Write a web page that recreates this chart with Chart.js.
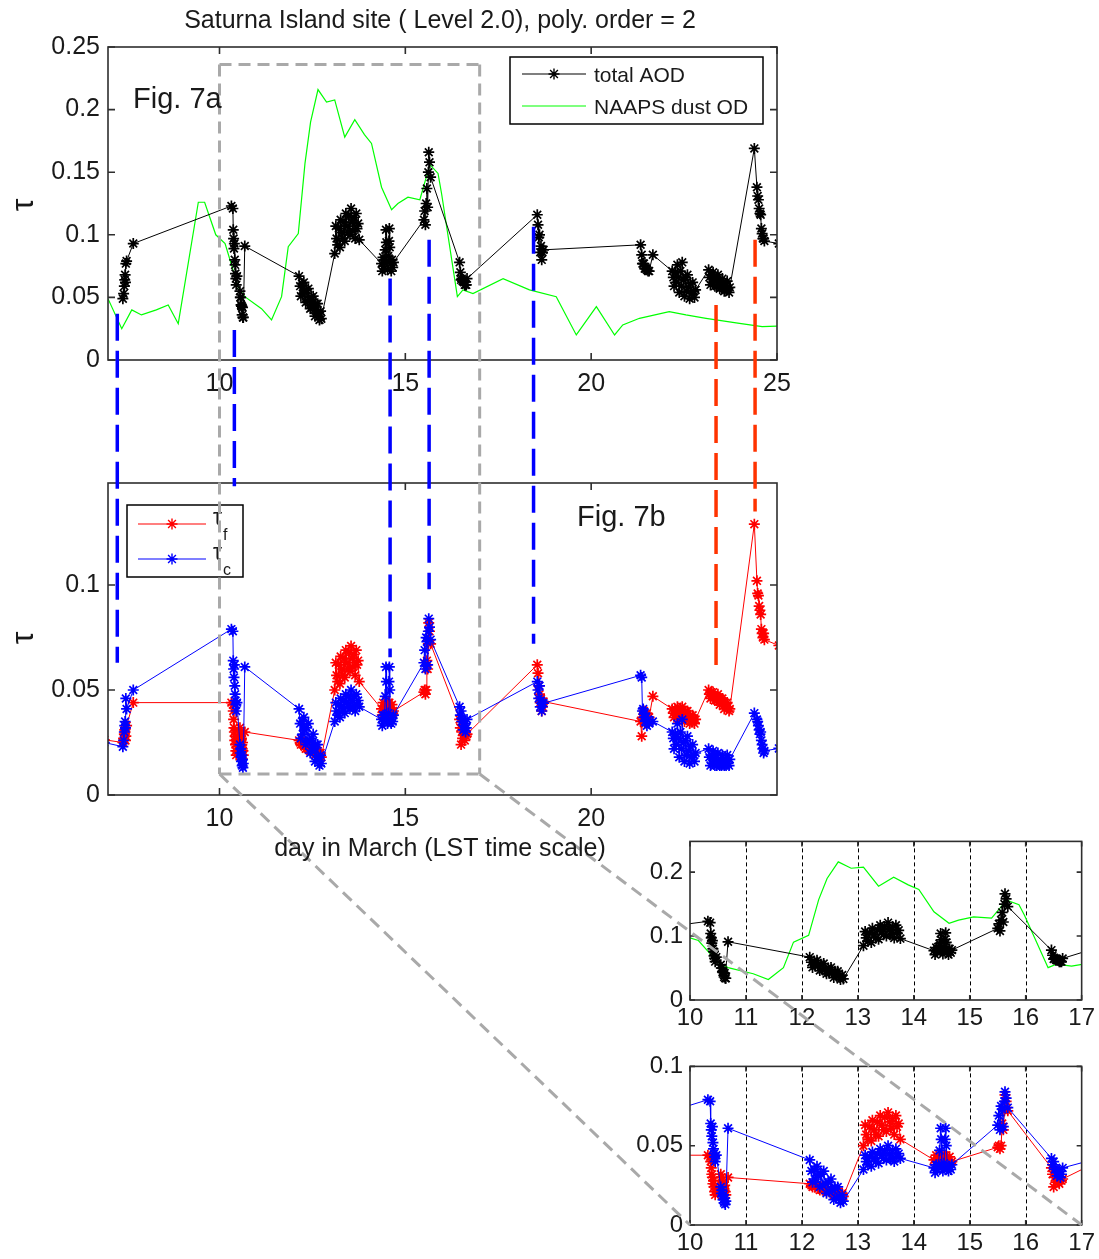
<!DOCTYPE html>
<html>
<head>
<meta charset="utf-8">
<script src="https://cdn.jsdelivr.net/npm/chart.js@4.4.1/dist/chart.umd.min.js"></script>
<style>
  body { margin: 0; background: #fff; }
  #fig { position: relative; width: 1099px; height: 1259px; font-family: "Liberation Sans", Arial, sans-serif; color: #1a1a1a; }
  #fig canvas { position: absolute; }
  .txt { position: absolute; white-space: nowrap; line-height: 1; }
  .ylab { position: absolute; width: 40px; height: 34px; text-align: center; font-size: 32px; line-height: 34px; transform: rotate(-90deg); }
</style>
</head>
<body>
<div id="fig">
  <canvas id="cTop" style="left:0;top:0" width="800" height="400"></canvas>
  <canvas id="cBot" style="left:0;top:440px" width="800" height="400"></canvas>
  <canvas id="cInTop" style="left:620px;top:820px" width="479" height="225"></canvas>
  <canvas id="cInBot" style="left:620px;top:1045px" width="479" height="214"></canvas>
  <canvas id="over" style="left:0;top:0;pointer-events:none" width="1099" height="1259"></canvas>
  <div class="txt" style="left:0;width:880px;text-align:center;top:7px;font-size:25px">Saturna Island site ( Level 2.0), poly. order = 2</div>
  <div class="txt" style="left:133px;top:84px;font-size:29px">Fig. 7a</div>
  <div class="txt" style="left:577px;top:502px;font-size:29px">Fig. 7b</div>
  <div class="txt" style="left:0;width:880px;text-align:center;top:835px;font-size:25px">day in March (LST time scale)</div>
  <div class="ylab" style="left:2px;top:188px">τ</div>
  <div class="ylab" style="left:2px;top:621px">τ</div>
</div>
<script>
'use strict';
// ---- data ----
// observation days (LST, day in March); first entry sits just left of the axis
const obsDay = [
  6.9,
  7.40, 7.42, 7.44, 7.45, 7.46, 7.47, 7.48, 7.50, 7.68,
  10.32, 10.36, 10.37, 10.38, 10.39, 10.40, 10.41, 10.42, 10.43, 10.44, 10.45, 10.47,
  10.55, 10.56, 10.57, 10.58, 10.59, 10.60, 10.61, 10.62, 10.63, 10.64, 10.68,
  12.14, 12.17, 12.19, 12.22, 12.24, 12.27, 12.29, 12.32, 12.34, 12.37, 12.39, 12.42, 12.44, 12.47, 12.49, 12.52, 12.54, 12.57, 12.59, 12.62, 12.64, 12.67, 12.69, 12.72, 12.74,
  13.10, 13.13, 13.15, 13.18, 13.21, 13.24, 13.26, 13.29, 13.32, 13.35, 13.37, 13.40, 13.43, 13.46, 13.48, 13.51, 13.54, 13.57, 13.59, 13.62, 13.65, 13.68, 13.70, 13.73, 13.76,
  14.36, 14.38, 14.40, 14.42, 14.44, 14.46, 14.48, 14.49, 14.50, 14.52, 14.54, 14.56, 14.57, 14.58, 14.60, 14.62, 14.64, 14.66, 14.68,
  15.50, 15.52, 15.54, 15.56, 15.58, 15.60, 15.62, 15.63, 15.65, 15.68,
  16.46, 16.48, 16.50, 16.52, 16.54, 16.56, 16.58, 16.60, 16.62, 16.64, 16.66,
  18.55, 18.57, 18.59, 18.61, 18.63, 18.65, 18.67, 18.69, 18.72,
  21.33, 21.36, 21.38, 21.40, 21.42, 21.44, 21.46, 21.48, 21.50, 21.53, 21.56, 21.66,
  22.18, 22.21, 22.23, 22.26, 22.29, 22.32, 22.34, 22.37, 22.40, 22.43, 22.45, 22.48, 22.51, 22.54, 22.56, 22.59, 22.62, 22.65, 22.67, 22.70, 22.73, 22.76, 22.78, 22.81,
  23.16, 23.18, 23.21, 23.23, 23.26, 23.28, 23.31, 23.33, 23.36, 23.38, 23.41, 23.43, 23.46, 23.48, 23.51, 23.53, 23.56, 23.58, 23.61, 23.63, 23.66, 23.68, 23.71, 23.73,
  24.39, 24.46, 24.48, 24.50, 24.52, 24.54, 24.56, 24.58, 24.60, 24.62, 24.64, 24.66,
  25.05
];
// total AOD (Fig. 7a, black)
const totalAod = [
  null,
  0.049, 0.053, 0.059, 0.064, 0.068, 0.062, 0.077, 0.079, 0.093,
  0.123, 0.121, 0.104, 0.097, 0.089, 0.093, 0.080, 0.076, 0.069, 0.065, 0.060, 0.067,
  0.055, 0.050, 0.050, 0.044, 0.043, 0.043, 0.036, 0.042, 0.034, 0.034, 0.091,
  0.067, 0.059, 0.051, 0.061, 0.053, 0.062, 0.054, 0.046, 0.056, 0.047, 0.057, 0.048, 0.041, 0.050, 0.042, 0.051, 0.043, 0.035, 0.045, 0.037, 0.045, 0.038, 0.032, 0.039, 0.033,
  0.085, 0.107, 0.097, 0.092, 0.105, 0.090, 0.112, 0.102, 0.097, 0.110, 0.095, 0.117, 0.107, 0.102, 0.115, 0.100, 0.121, 0.110, 0.103, 0.114, 0.097, 0.117, 0.105, 0.109, 0.096,
  0.077, 0.071, 0.082, 0.075, 0.080, 0.088, 0.104, 0.094, 0.079, 0.072, 0.083, 0.095, 0.105, 0.090, 0.077, 0.071, 0.080, 0.074, 0.078,
  0.112, 0.119, 0.108, 0.125, 0.137, 0.122, 0.150, 0.166, 0.158, 0.146,
  0.078, 0.070, 0.064, 0.065, 0.063, 0.064, 0.062, 0.060, 0.060, 0.060, 0.065,
  0.116, 0.108, 0.098, 0.100, 0.086, 0.091, 0.080, 0.086, 0.088,
  0.092, 0.084, 0.077, 0.077, 0.077, 0.073, 0.073, 0.073, 0.072, 0.071, 0.071, 0.084,
  0.071, 0.066, 0.059, 0.070, 0.062, 0.076, 0.066, 0.054, 0.071, 0.059, 0.078, 0.064, 0.051, 0.066, 0.055, 0.068, 0.058, 0.049, 0.061, 0.053, 0.062, 0.055, 0.050, 0.056,
  0.072, 0.066, 0.060, 0.068, 0.062, 0.070, 0.064, 0.059, 0.066, 0.059, 0.068, 0.062, 0.057, 0.063, 0.058, 0.065, 0.059, 0.055, 0.061, 0.056, 0.063, 0.057, 0.054, 0.058,
  0.169, 0.138, 0.131, 0.128, 0.121, 0.117, 0.116, 0.105, 0.101, 0.097, 0.097, 0.095,
  0.093
];
// fine mode tau_f (Fig. 7b, red)
const tauF = [
  0.0263,
  0.025, 0.027, 0.029, 0.031, 0.030, 0.026, 0.028, 0.033, 0.044,
  0.044, 0.043, 0.040, 0.036, 0.032, 0.030, 0.026, 0.028, 0.024, 0.021, 0.019, 0.023,
  0.032, 0.030, 0.028, 0.026, 0.027, 0.024, 0.022, 0.025, 0.021, 0.019, 0.030,
  0.026, 0.025, 0.024, 0.026, 0.024, 0.025, 0.023, 0.022, 0.024, 0.022, 0.023, 0.022, 0.021, 0.023, 0.021, 0.022, 0.021, 0.019, 0.021, 0.020, 0.021, 0.020, 0.018, 0.020, 0.018,
  0.050, 0.063, 0.057, 0.054, 0.062, 0.053, 0.066, 0.060, 0.057, 0.065, 0.056, 0.069, 0.063, 0.060, 0.068, 0.059, 0.071, 0.065, 0.061, 0.067, 0.057, 0.069, 0.062, 0.064, 0.054,
  0.041, 0.038, 0.044, 0.040, 0.042, 0.041, 0.043, 0.040, 0.042, 0.038, 0.044, 0.041, 0.044, 0.040, 0.041, 0.037, 0.043, 0.039, 0.040,
  0.049, 0.050, 0.048, 0.050, 0.064, 0.060, 0.072, 0.082, 0.078, 0.072,
  0.036, 0.032, 0.024, 0.030, 0.027, 0.033, 0.029, 0.026, 0.030, 0.028, 0.029,
  0.062, 0.058, 0.052, 0.048, 0.044, 0.046, 0.040, 0.042, 0.0445,
  0.035, 0.028, 0.037, 0.036, 0.040, 0.034, 0.038, 0.036, 0.039, 0.035, 0.037, 0.047,
  0.041, 0.039, 0.037, 0.041, 0.038, 0.042, 0.039, 0.036, 0.041, 0.037, 0.042, 0.039, 0.035, 0.040, 0.036, 0.040, 0.037, 0.034, 0.038, 0.035, 0.038, 0.036, 0.034, 0.036,
  0.050, 0.048, 0.046, 0.049, 0.047, 0.049, 0.047, 0.045, 0.047, 0.045, 0.048, 0.046, 0.043, 0.046, 0.044, 0.046, 0.044, 0.041, 0.044, 0.042, 0.044, 0.042, 0.040, 0.041,
  0.129, 0.102, 0.096, 0.095, 0.090, 0.088, 0.086, 0.079, 0.077, 0.075, 0.077, 0.074,
  0.0712
];
// coarse mode tau_c (Fig. 7b, blue)
const tauC = [
  0.0250,
  0.023, 0.026, 0.030, 0.033, 0.035, 0.032, 0.046, 0.041, 0.050,
  0.079, 0.078, 0.064, 0.060, 0.056, 0.062, 0.052, 0.048, 0.045, 0.043, 0.040, 0.044,
  0.024, 0.020, 0.022, 0.018, 0.016, 0.019, 0.014, 0.017, 0.013, 0.015, 0.061,
  0.041, 0.034, 0.027, 0.035, 0.029, 0.037, 0.031, 0.024, 0.032, 0.025, 0.034, 0.026, 0.020, 0.027, 0.021, 0.029, 0.022, 0.016, 0.024, 0.017, 0.024, 0.018, 0.014, 0.019, 0.015,
  0.035, 0.044, 0.040, 0.038, 0.043, 0.037, 0.046, 0.042, 0.040, 0.045, 0.039, 0.048, 0.044, 0.042, 0.047, 0.041, 0.050, 0.045, 0.042, 0.047, 0.040, 0.048, 0.043, 0.045, 0.042,
  0.036, 0.033, 0.038, 0.035, 0.038, 0.047, 0.061, 0.054, 0.037, 0.034, 0.039, 0.054, 0.061, 0.050, 0.036, 0.034, 0.037, 0.035, 0.038,
  0.063, 0.069, 0.060, 0.075, 0.073, 0.062, 0.078, 0.084, 0.080, 0.074,
  0.042, 0.038, 0.040, 0.035, 0.036, 0.031, 0.033, 0.034, 0.030, 0.032, 0.036,
  0.054, 0.050, 0.046, 0.052, 0.042, 0.045, 0.040, 0.044, 0.0437,
  0.057, 0.056, 0.040, 0.041, 0.037, 0.039, 0.035, 0.037, 0.033, 0.036, 0.034, 0.035,
  0.030, 0.027, 0.022, 0.029, 0.024, 0.034, 0.027, 0.018, 0.030, 0.022, 0.036, 0.025, 0.016, 0.026, 0.019, 0.028, 0.021, 0.015, 0.023, 0.018, 0.024, 0.019, 0.016, 0.020,
  0.022, 0.018, 0.014, 0.019, 0.015, 0.021, 0.017, 0.014, 0.019, 0.014, 0.020, 0.016, 0.014, 0.017, 0.014, 0.019, 0.015, 0.014, 0.017, 0.014, 0.019, 0.015, 0.014, 0.017,
  0.039, 0.036, 0.035, 0.033, 0.031, 0.029, 0.030, 0.026, 0.024, 0.022, 0.020, 0.021,
  0.0222
];
// NAAPS dust optical depth (green)
const dustDay = [7.0, 7.37, 7.64, 7.9, 8.3, 8.62, 8.89, 9.43, 9.6, 9.9, 10.15, 10.5, 10.68, 11.13, 11.4, 11.67, 11.85, 12.12,
  12.3, 12.45, 12.65, 12.88, 13.1, 13.37, 13.64, 13.9, 14.09, 14.36, 14.63, 14.8, 15.07, 15.39, 15.66, 15.88, 15.98, 16.4,
  16.55, 16.82, 17.63, 18.34, 19.06, 19.6, 20.14, 20.63, 20.85, 21.3, 22.1, 22.55, 23.09, 23.99, 24.6, 25.0];
const dustVal = [0.049, 0.025, 0.040, 0.036, 0.040, 0.044, 0.029, 0.126, 0.126, 0.100, 0.093, 0.0585, 0.0506, 0.041, 0.032, 0.0506, 0.0905, 0.101,
  0.157, 0.190, 0.216, 0.206, 0.2077, 0.178, 0.192, 0.180, 0.173, 0.138, 0.120, 0.125, 0.130, 0.128, 0.156, 0.149, 0.132, 0.0506,
  0.056, 0.053, 0.065, 0.056, 0.0506, 0.020, 0.0426, 0.020, 0.028, 0.0333, 0.0386, 0.036, 0.0333, 0.0293, 0.0266, 0.027];
// axis ticks
const mainDayTicks = [10, 15, 20, 25];
const lowDayTicks = [10, 15, 20];
const zoomDayTicks = [10, 11, 12, 13, 14, 15, 16, 17];
const topTauTicks = [0, 0.05, 0.1, 0.15, 0.2, 0.25];
const lowTauTicks = [0, 0.05, 0.1];
const zoomTopTicks = [0, 0.1, 0.2];
const zoomLowTicks = [0, 0.05, 0.1];
// dashed guide lines: day, upper end (Fig. 7a tau), lower end (Fig. 7b tau)
const blueGuides = [[7.25, 0.037, 0.063], [10.40, 0.024, 0.147], [14.59, 0.065, 0.0656], [15.64, 0.096, 0.098], [18.45, 0.1065, 0.072]];
const redGuides = [[23.36, 0.044, 0.060], [24.41, 0.096, 0.135]];
// ---- end of data ----

const FONT = '"Liberation Sans", Arial, sans-serif';
const TXT = '#1a1a1a';

function pts(xs, ys) {
  let out = [];
  for (let i = 0; i < xs.length; i++) out.push({ x: xs[i], y: ys[i] });
  return out;
}

function starSeries(xs, ys, color) {
  return { data: pts(xs, ys), showLine: true, borderColor: color, backgroundColor: color, borderWidth: 1,
    pointStyle: 'star', pointRadius: 5.5, pointBorderWidth: 1.7, pointBorderColor: color, spanGaps: false };
}
function plainSeries(xs, ys, color) {
  return { data: pts(xs, ys), showLine: true, borderColor: color, borderWidth: 1.2, pointRadius: 0 };
}

function drawStar(ctx, x, y, r) {
  ctx.beginPath();
  for (let k = 0; k < 4; k++) {
    let a = k * Math.PI / 4;
    ctx.moveTo(x - Math.cos(a) * r, y - Math.sin(a) * r);
    ctx.lineTo(x + Math.cos(a) * r, y + Math.sin(a) * r);
  }
  ctx.stroke();
}

// box, inward ticks, dotted day lines and in-plot legend
function framePlugin(o) {
  return {
    id: 'frame',
    beforeDatasetsDraw(chart) {
      if (!o.dotted) return;
      const { ctx, chartArea: a, scales } = chart;
      ctx.save();
      ctx.strokeStyle = '#000';
      ctx.lineWidth = 1;
      ctx.setLineDash([4, 3]);
      o.dotted.forEach(v => {
        let x = Math.round(scales.x.getPixelForValue(v)) + 0.5;
        ctx.beginPath(); ctx.moveTo(x, a.top); ctx.lineTo(x, a.bottom); ctx.stroke();
      });
      ctx.restore();
    },
    afterDatasetsDraw(chart) {
      const { ctx, chartArea: a, scales } = chart;
      ctx.save();
      ctx.strokeStyle = '#2e2e2e';
      ctx.lineWidth = 1.6;
      ctx.strokeRect(a.left, a.top, a.right - a.left, a.bottom - a.top);
      const t = o.tickLen;
      ctx.beginPath();
      o.xTicks.forEach(v => {
        let x = scales.x.getPixelForValue(v);
        ctx.moveTo(x, a.bottom); ctx.lineTo(x, a.bottom - t);
        ctx.moveTo(x, a.top); ctx.lineTo(x, a.top + t);
      });
      o.yTicks.forEach(v => {
        let y = scales.y.getPixelForValue(v);
        ctx.moveTo(a.left, y); ctx.lineTo(a.left + t, y);
        ctx.moveTo(a.right, y); ctx.lineTo(a.right - t, y);
      });
      ctx.stroke();
      if (o.legend) {
        const L = o.legend;
        ctx.fillStyle = '#fff';
        ctx.fillRect(L.x, L.y, L.w, L.h);
        ctx.strokeStyle = '#000';
        ctx.lineWidth = 1.5;
        ctx.strokeRect(L.x, L.y, L.w, L.h);
        L.rows.forEach(r => {
          ctx.strokeStyle = r.color;
          ctx.lineWidth = 1.2;
          ctx.beginPath(); ctx.moveTo(L.x0, r.y); ctx.lineTo(L.x1, r.y); ctx.stroke();
          if (r.star) { ctx.lineWidth = 1.4; drawStar(ctx, (L.x0 + L.x1) / 2, r.y, 5.5); }
          ctx.fillStyle = TXT;
          ctx.font = L.size + 'px ' + FONT;
          ctx.textBaseline = 'alphabetic';
          ctx.fillText(r.label, L.tx, r.y + L.dy);
          if (r.sub) {
            let w = ctx.measureText(r.label).width;
            ctx.font = L.subSize + 'px ' + FONT;
            ctx.fillText(r.sub, L.tx + w + 1, r.y + L.subDy);
          }
        });
      }
      ctx.restore();
    }
  };
}

function makeChart(id, datasets, o) {
  return new Chart(document.getElementById(id), {
    type: 'scatter',
    data: { datasets: datasets },
    options: {
      responsive: false,
      animation: false,
      events: [],
      layout: { padding: { top: o.padTop, right: o.padRight, left: 0, bottom: 0 } },
      plugins: { legend: { display: false }, tooltip: { enabled: false } },
      scales: {
        x: {
          type: 'linear', min: o.xMin, max: o.xMax,
          grid: { display: false, drawTicks: false }, border: { display: false },
          afterBuildTicks: ax => { ax.ticks = o.xTicks.map(v => ({ value: v })); },
          afterFit: ax => { ax.height = o.xHeight; },
          ticks: { font: { size: o.font, family: FONT }, color: TXT, padding: o.xPad, maxRotation: 0, autoSkip: false, callback: v => String(v) }
        },
        y: {
          type: 'linear', min: 0, max: o.yMax,
          grid: { display: false, drawTicks: false }, border: { display: false },
          afterBuildTicks: ax => { ax.ticks = o.yTicks.map(v => ({ value: v })); },
          afterFit: ax => { ax.width = o.yWidth; },
          ticks: { font: { size: o.font, family: FONT }, color: TXT, padding: o.yPad, autoSkip: false, callback: v => String(v) }
        }
      }
    },
    plugins: [framePlugin(o)]
  });
}

const topChart = makeChart('cTop', [
  starSeries(obsDay, totalAod, '#000000'),
  plainSeries(dustDay, dustVal, '#00ff00')
], { padTop: 47, padRight: 23, xHeight: 40, yWidth: 108, xMin: 7, xMax: 25, yMax: 0.25, xTicks: mainDayTicks, yTicks: topTauTicks,
     font: 25, xPad: 9, yPad: 8, tickLen: 7,
     legend: { x: 510, y: 57, w: 253, h: 67, x0: 522, x1: 586, tx: 594, size: 21, dy: 8, subSize: 15, subDy: 14,
       rows: [{ y: 74, color: '#000', star: true, label: 'total AOD' }, { y: 106, color: '#00ff00', star: false, label: 'NAAPS dust OD' }] } });

const botChart = makeChart('cBot', [
  starSeries(obsDay, tauC, '#0000ff'),
  starSeries(obsDay, tauF, '#ff0000')
], { padTop: 43, padRight: 23, xHeight: 45, yWidth: 108, xMin: 7, xMax: 25, yMax: 0.1486, xTicks: lowDayTicks, yTicks: lowTauTicks,
     font: 25, xPad: 9, yPad: 8, tickLen: 7,
     legend: { x: 127, y: 65, w: 116, h: 72, x0: 138, x1: 206, tx: 213, size: 23, dy: 1, subSize: 16, subDy: 16,
       rows: [{ y: 84, color: '#ff0000', star: true, label: 'τ', sub: 'f' }, { y: 119, color: '#0000ff', star: true, label: 'τ', sub: 'c' }] } });

const inTopChart = makeChart('cInTop', [
  starSeries(obsDay, totalAod, '#000000'),
  plainSeries(dustDay, dustVal, '#00ff00')
], { padTop: 17, padRight: 17, xHeight: 45, yWidth: 70, xMin: 10, xMax: 17, yMax: 0.248, xTicks: zoomDayTicks, yTicks: zoomTopTicks,
     font: 24, xPad: 4, yPad: 7, tickLen: 5, dotted: [11, 12, 13, 14, 15, 16] });

const inBotChart = makeChart('cInBot', [
  starSeries(obsDay, tauC, '#0000ff'),
  starSeries(obsDay, tauF, '#ff0000')
], { padTop: 18, padRight: 17, xHeight: 34, yWidth: 70, xMin: 10, xMax: 17, yMax: 0.1, xTicks: zoomDayTicks, yTicks: zoomLowTicks,
     font: 24, xPad: 4, yPad: 7, tickLen: 5, dotted: [11, 12, 13, 14, 15, 16] });

// overlay: zoom box, connectors and dashed guide lines across both panels
function pagePt(chart, x, y) {
  let c = chart.canvas;
  return [c.offsetLeft + chart.scales.x.getPixelForValue(x), c.offsetTop + chart.scales.y.getPixelForValue(y)];
}
function dashLine(ctx, p, q) {
  ctx.beginPath(); ctx.moveTo(p[0], p[1]); ctx.lineTo(q[0], q[1]); ctx.stroke();
}

const ov = document.getElementById('over').getContext('2d');
ov.lineCap = 'butt';
ov.strokeStyle = '#a9a9a9';
ov.lineWidth = 3;
ov.setLineDash([12, 7]);
const zx0 = 10, zx1 = 17, zTop = 0.236, zBot = 0.01;
dashLine(ov, pagePt(topChart, zx0, zTop), pagePt(topChart, zx1, zTop));
dashLine(ov, pagePt(topChart, zx0, zTop), pagePt(botChart, zx0, zBot));
dashLine(ov, pagePt(topChart, zx1, zTop), pagePt(botChart, zx1, zBot));
dashLine(ov, pagePt(botChart, zx0, zBot), pagePt(botChart, zx1, zBot));
dashLine(ov, pagePt(botChart, zx0, zBot), pagePt(inBotChart, 10, 0));
dashLine(ov, pagePt(botChart, zx1, zBot), pagePt(inBotChart, 17, 0));

ov.lineWidth = 3.5;
ov.setLineDash([27, 10]);
function guides(list, color) {
  ov.strokeStyle = color;
  list.forEach(g => {
    let p = pagePt(topChart, g[0], g[1]);
    let q = pagePt(botChart, g[0], g[2]);
    dashLine(ov, p, [p[0], q[1]]);
  });
}
guides(blueGuides, '#0000ff');
guides(redGuides, '#ff3300');
</script>
</body>
</html>
